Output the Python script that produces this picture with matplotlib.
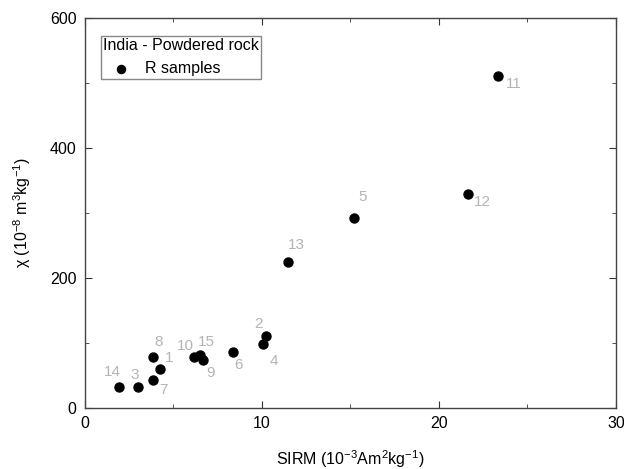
import matplotlib
matplotlib.use('Agg')
import matplotlib.pyplot as plt
from matplotlib.ticker import MultipleLocator

plt.rcParams['font.family'] = ['Liberation Sans', 'DejaVu Sans']
plt.rcParams['mathtext.fontset'] = 'custom'
plt.rcParams['mathtext.rm'] = 'Liberation Sans'
plt.rcParams['mathtext.it'] = 'Liberation Sans'

# sample data
sample_ids = ['14', '3', '7', '8', '1', '10', '15', '9', '6', '4', '2', '13', '5', '12', '11']
sirm = [1.94, 3.01, 3.84, 3.84, 4.24, 6.16, 6.50, 6.68, 8.36, 10.06, 10.23, 11.5, 15.18, 21.66, 23.35]
chi = [32, 33, 43, 79, 59.5, 79, 81.5, 74, 86.6, 98.5, 110.8, 224.6, 292.8, 329.7, 510.8]

# label offsets in pixels (dx, dy) relative to each point
label_offsets = {
    '14': (-7, 15), '3': (-3, 12), '7': (11, -10), '8': (6, 15), '1': (9, 11),
    '10': (-9, 11), '15': (6, 13), '9': (7, -13), '6': (6, -13), '4': (11, -17),
    '2': (-7, 12), '13': (8, 17), '5': (9, 21), '12': (14, -8), '11': (16, -8),
}

fs = 11.5

fig = plt.figure(figsize=(6.24, 4.69), dpi=100)
ax = fig.add_axes([0.136, 0.130, 0.851, 0.832])

ax.scatter(sirm, chi, s=42, color='black', zorder=3, label='R samples')

for sid, x, y in zip(sample_ids, sirm, chi):
    dx, dy = label_offsets[sid]
    ax.annotate(sid, xy=(x, y), xytext=(dx, dy), textcoords='offset pixels',
                ha='center', va='center', color='#b4b4b4', fontsize=11)

ax.set_xlim(0, 30)
ax.set_ylim(0, 600)
ax.xaxis.set_major_locator(MultipleLocator(10))
ax.xaxis.set_minor_locator(MultipleLocator(5))
ax.yaxis.set_major_locator(MultipleLocator(200))
ax.yaxis.set_minor_locator(MultipleLocator(100))
ax.tick_params(which='both', direction='in', top=True, right=True,
               labelsize=fs, color='#333333')
ax.tick_params(which='major', length=5, pad=6)
ax.tick_params(which='minor', length=3)
for sp in ax.spines.values():
    sp.set_color('#444444')
    sp.set_linewidth(1.0)

ax.set_xlabel('SIRM (10$^{-3}$Am$^{2}$kg$^{-1}$)', fontsize=fs, labelpad=12)
ax.set_ylabel('χ (10$^{-8}$ m$^{3}$kg$^{-1}$)', fontsize=fs, labelpad=12)

leg = ax.legend(title='India - Powdered rock', loc='upper left',
                bbox_to_anchor=(0.030, 0.954), alignment='left',
                fontsize=fs, title_fontsize=fs, fancybox=False,
                edgecolor='#888888', framealpha=1, handletextpad=0.4,
                handlelength=2.2, borderpad=0.15, markerscale=0.9,
                borderaxespad=0)
leg.get_frame().set_linewidth(1.0)

fig.savefig('out.png', dpi=100)
